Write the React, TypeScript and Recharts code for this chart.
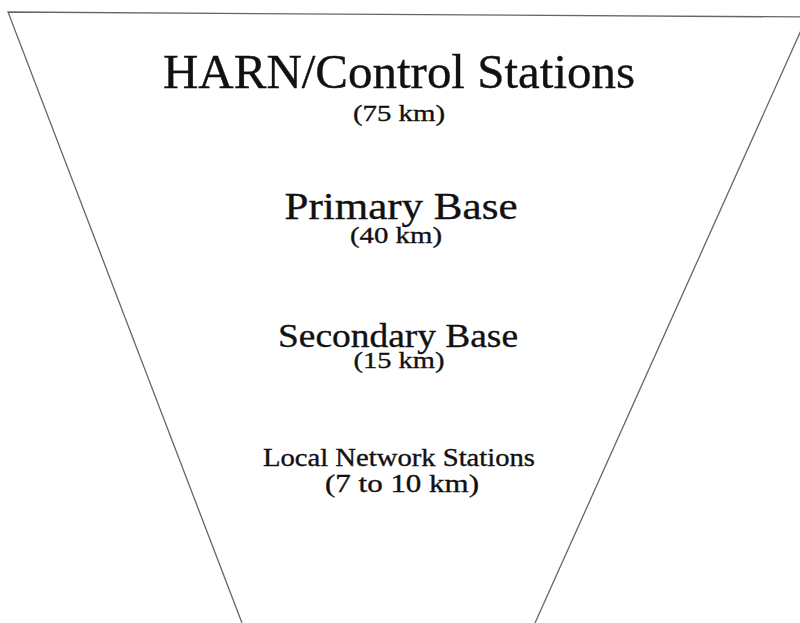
import { ComposedChart, Line, Scatter, XAxis, YAxis } from 'recharts';

const stationNames = ['HARN/Control Stations', 'Primary Base', 'Secondary Base', 'Local Network Stations'];
const stationRanges = ['(75 km)', '(40 km)', '(15 km)', '(7 to 10 km)'];

// funnel outline: x measured from the centre line, y from the top
const outlineX = [-158, -392, 407, 135];
const outlineY = [623, 12, 17, 623];

// text layout (baseline, centre offset, font size, drawn width)
const nameLayout = [
  { y: 88, dx: -1, size: 49, width: 472 },
  { y: 219, dx: 1, size: 37, width: 233 },
  { y: 347, dx: -2, size: 34, width: 240 },
  { y: 466, dx: -1, size: 25, width: 272 },
];
const rangeLayout = [
  { y: 121, dx: -1, size: 24, width: 92 },
  { y: 243, dx: -4, size: 24, width: 92 },
  { y: 368, dx: -1, size: 24, width: 91 },
  { y: 492, dx: 2, size: 25, width: 154 },
];

const outline = outlineX.map((x, i) => ({ x, y: outlineY[i] }));
const nameData = stationNames.map((label, i) => ({ x: 0, ...nameLayout[i], label }));
const rangeData = stationRanges.map((label, i) => ({ x: 0, ...rangeLayout[i], label }));

const FONT = "'Liberation Serif'";

// eslint-disable-next-line @typescript-eslint/no-explicit-any
const TextMark = (p: any) => {
  const d = p.payload;
  return (
    <text x={p.cx + d.dx} y={p.cy} textAnchor="middle"
      style={{ fontFamily: FONT, fontSize: d.size }} fill="#111" stroke="#111" strokeWidth={0.35}
      textLength={d.width} lengthAdjust="spacingAndGlyphs">
      {d.label}
    </text>
  );
};

export default function App() {
  return (
    <div style={{ position: 'absolute', left: 0, top: 0, width: 800, height: 623, background: '#fff' }}>
      <ComposedChart width={800} height={623} margin={{ top: 0, right: 0, bottom: 0, left: 0 }}>
        <XAxis type="number" dataKey="x" domain={[-400, 400]} allowDataOverflow hide />
        <YAxis type="number" dataKey="y" domain={[0, 623]} reversed allowDataOverflow hide />
        <Line data={outline} dataKey="y" type="linear" stroke="#666" strokeWidth={1.3}
          dot={false} activeDot={false} isAnimationActive={false} />
        <Scatter data={nameData} dataKey="y" shape={TextMark} isAnimationActive={false} />
        <Scatter data={rangeData} dataKey="y" shape={TextMark} isAnimationActive={false} />
      </ComposedChart>
    </div>
  );
}
